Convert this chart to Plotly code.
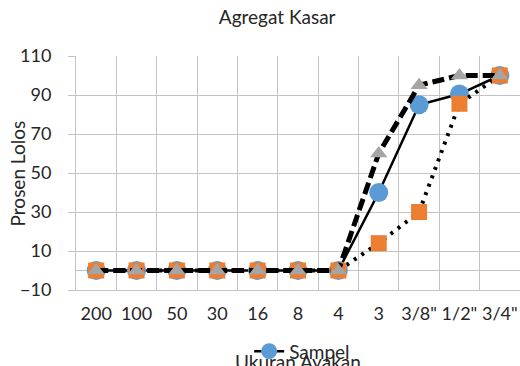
import plotly.graph_objects as go

categories = ["200", "100", "50", "30", "16", "8", "4", "3", "3/8\"", "1/2\"", "3/4\""]
sampel = [0, 0, 0, 0, 0, 0, 0, 40, 85, 90.5, 100]
batas_atas = [0, 0, 0, 0, 0, 0, 0, 60, 95, 100, 100]
batas_bawah = [0, 0, 0, 0, 0, 0, 0, 14, 30, 85.5, 100]

FONT = "Lato, Carlito, Liberation Sans, sans-serif"
TXT = "#262626"
GRID = "#c3c3c3"
FS = 18

fig = go.Figure()
fig.add_trace(go.Scatter(
    x=categories, y=sampel, mode="lines+markers", name="Sampel",
    line=dict(color="black", width=2.5),
    marker=dict(symbol="circle", size=19, color="#5B9BD5"),
))
fig.add_trace(go.Scatter(
    x=categories, y=batas_bawah, mode="lines+markers", showlegend=False,
    line=dict(color="black", width=4, dash="3px,6px"),
    marker=dict(symbol="square", size=16, color="#ED7D31"),
))
fig.add_trace(go.Scatter(
    x=categories, y=batas_atas, mode="lines+markers", showlegend=False,
    line=dict(color="black", width=5, dash="12px,5px"),
    marker=dict(symbol="triangle-up", size=15, color="#A5A5A5"),
))

fig.update_layout(
    width=520, height=366,
    margin=dict(l=76, r=0, t=56, b=76, autoexpand=False),
    paper_bgcolor="white", plot_bgcolor="white",
    font=dict(family=FONT, size=FS, color=TXT),
    title=dict(text="Agregat Kasar", x=0.533, xanchor="center", y=0.953, yanchor="middle",
               font=dict(size=19, family=FONT, color=TXT)),
    showlegend=True,
    legend=dict(orientation="h", x=0.39, xanchor="left", y=-0.262, yanchor="middle",
                bgcolor="rgba(0,0,0,0)", font=dict(size=19)),
    annotations=[
        dict(text="Ukuran Ayakan", xref="paper", yref="paper", x=0.5, y=-0.305,
             xanchor="center", yanchor="middle", showarrow=False, font=dict(size=19)),
        dict(text="Prosen Lolos", xref="paper", yref="paper", x=-0.132, y=0.5, textangle=-90,
             xanchor="center", yanchor="middle", showarrow=False, font=dict(size=19)),
    ],
)
fig.update_xaxes(
    type="category", tickson="boundaries", showgrid=True, gridcolor=GRID, gridwidth=1,
    showline=True, linecolor=GRID, ticks="", automargin=False, tickangle=0,
    tickfont=dict(size=18), range=[-0.5, 10.5], ticklabelstandoff=7,
)
fig.update_yaxes(
    range=[-10, 110], tickmode="linear", tick0=-10, dtick=20,
    showgrid=True, gridcolor=GRID, gridwidth=1,
    zeroline=True, zerolinecolor=GRID, zerolinewidth=1,
    showline=True, linecolor=GRID, ticks="outside", ticklen=7, tickcolor=GRID,
    tickfont=dict(size=FS), automargin=False, ticklabelstandoff=13,
)

fig.write_html(
    "out.html",
    config={"displayModeBar": False},
    post_script="document.body.style.margin='0';document.body.style.padding='0';",
)
